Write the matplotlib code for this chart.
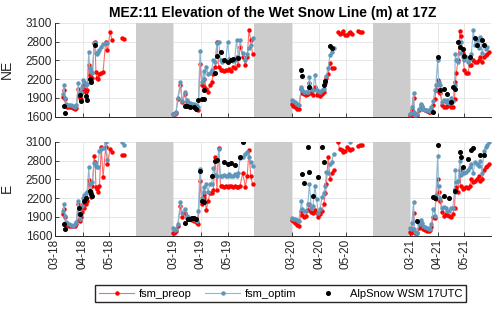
import numpy as np
import matplotlib
matplotlib.use("Agg")
from matplotlib import pyplot as plt

nan = np.nan

#x axis = days since 1 March, one block per spring, grey band for the summer/winter gap
years = ["18", "19", "20", "21"]
month_labels = ["03", "04", "05"]
month_days = [0, 31, 61]
season_len = 133
gap_start = 91

#spring 2018
days_18 = [9, 10, 11, 12, 14, 16, 18, 20, 22, 24, 26, 27, 28, 29, 30, 32, 33, 35, 36, 38,
           39, 40, 42, 44, 45, 46, 47, 48, 50, 52, 54, 57, 59, 62, 64, 68, 75, 77]
ne_preop_18 = [1920, 2030, 1880, 1780, 1760, 1750, 1750, 1740, 1720, 1740, 2050, 1930, 1900, 1880, 2000, 2100, 2050, 2000, 2030, 2430,
               2260, 2180, 2220, 2780, 2790, 2310, 2210, 2200, 2280, 2300, 2310, 2800, 2660, 2950, 2830, nan, 2860, 2840]
ne_optim_18 = [1960, 2100, 1900, 1800, 1790, 1790, 1780, 1770, 1760, 1780, 2130, 1950, 1960, 2000, 2080, 2190, 2150, 2100, 2120, 2640,
               2380, 2330, 2300, 2770, 2780, 2620, 2600, 2640, 2660, 2720, 2760, 2770, 2780, nan, nan, nan, nan, nan]
e_preop_18 = [1940, 2020, 1900, 1790, 1770, 1760, 1750, 1750, 1760, 1780, 2100, 1850, 1830, 1900, 1980, 2100, 2050, 2100, 2150, 2490,
              2320, 2220, 2400, 2870, 2780, 2380, 2350, 2300, 2400, 3020, 2530, 3020, 2750, 2990, 2930, nan, 2890, 2880]
e_optim_18 = [1990, 2110, 1920, 1820, 1800, 1780, 1770, 1760, 1790, 1820, 2160, 1950, 1870, 1950, 2080, 2200, 2250, 2280, 2300, 2690,
              2420, 2300, 2450, 2760, 2760, 2720, 2700, 2700, 2950, 2980, 3000, 3090, 2810, nan, nan, nan, 3090, 3050]
ne_obs_days_18 = [10, 11, 28, 29, 35, 36, 39, 40, 45]
ne_obs_18 = [1770, 1665, 1940, 1850, 1930, 1870, 2200, 2150, 2750]
e_obs_days_18 = [10, 11, 27, 28, 33, 35, 39, 40, 42]
e_obs_18 = [1790, 1710, 2040, 1940, 2150, 2200, 2310, 2260, 2230]

#spring 2019
days_19 = [0, 1, 2, 3, 5, 8, 10, 13, 15, 17, 19, 21, 23, 25, 27, 28, 30, 32, 34, 35, 37, 39, 41,
           43, 45, 47, 49, 51, 53, 55, 57, 59, 61, 63, 65, 67, 69, 71, 73, 75, 78, 81, 83, 85, 87, 89]
ne_preop_19 = [1640, 1640, 1650, 1660, 1880, 2100, 1830, 1960, 1830, 1800, 1780, 1770, 1750, 1740, 1720, 1700, 2440, 2100, 2070, 2200, 2050, 2000, 2100,
               2150, 2280, 2400, 2800, 2400, 2340, 2340, 2330, 2350, 2340, 2360, 2330, 2400, 2370, 2560, 2420, 2720, 2560, 2430, 2550, 2980, 2820, 2600]
ne_optim_19 = [1650, 1650, 1660, 1670, 1900, 2150, 1850, 2000, 1860, 1840, 1820, 1810, 1800, 1780, 1770, 1760, 2650, 2150, 2330, 2200, 2400, 2280, 2300,
               2350, 2500, 2480, 2780, 2790, 2500, 2480, 2500, 2490, 2800, 2520, 2500, 2490, 2510, 2830, 2550, 2820, 2620, 2500, 2600, 2700, 2740, 2860]
e_preop_19 = [1640, 1650, 1660, 1680, 1760, 2070, 1900, 1960, 1880, 1870, 1860, 1850, 1840, 1830, 1800, 1780, 2470, 2100, 2200, 2250, 2010, 2150, 2280,
              2280, 2330, 2860, 2330, 3000, 2400, 2390, 2380, 2400, 2380, 2400, 2390, 2380, 2400, 2380, 2380, 2400, 2600, 2380, 2550, 2960, 2550, 2420]
e_optim_19 = [1720, 1700, 1690, 1700, 1780, 2130, 1970, 2030, 1920, 1900, 1890, 1880, 1870, 1860, 1840, 2000, 2670, 2200, 2380, 2300, 2420, 2300, 2420,
              2420, 2680, 2570, 2550, 2980, 2560, 2560, 2570, 2550, 2560, 2580, 2550, 2560, 2580, 2550, 2600, 2840, 2850, 2900, 2930, 2850, 2780, 2720]
ne_obs_days_19 = [13, 15, 19, 23, 25, 28, 32, 34, 35, 47, 49, 53, 57, 61, 65, 67, 73]
ne_obs_19 = [1770, 1770, 1760, 1760, 1730, 1860, 1890, 2030, 1880, 2290, 2570, 2640, 2500, 2480, 2500, 2520, 2540]
e_obs_days_19 = [13, 17, 19, 21, 23, 25, 30, 32, 34, 43, 47, 49, 57, 61, 65, 69, 75, 78]
e_obs_19 = [1800, 1860, 1870, 1880, 1890, 1870, 2630, 2160, 2140, 2560, 2790, 2810, 2780, 2750, 2760, 2730, 2850, 3090]

#spring 2020
days_20 = [0, 2, 4, 6, 8, 11, 12, 14, 16, 18, 20, 22, 24, 26, 28, 30, 32, 34, 36, 38,
           39, 41, 43, 45, 47, 50, 52, 54, 56, 58, 60, 62, 64, 66, 68, 71, 75, 77, 79]
ne_preop_20 = [1800, 1770, 1750, 1730, 1720, 2040, 1980, 1960, 1950, 1960, 2130, 1980, 1950, 2080, 1950, 1960, 1930, 1960, 2000, 2130,
               2210, 2280, 2450, 2370, 2380, nan, 2950, 2920, 2940, 2960, 2910, 2900, 2930, 2950, 2920, nan, 2960, 2950, 2950]
ne_optim_20 = [1860, 1850, 1830, 1800, 1790, 2080, 2030, 2000, 1990, 2000, 2240, 2040, 2020, 2260, 2030, 2010, 2000, 2020, 2050, 2170,
               2250, 2380, 2580, 2630, 2700, nan, nan, nan, nan, nan, nan, nan, nan, nan, nan, nan, nan, nan, nan]
e_preop_20 = [1850, 1830, 1800, 1770, 1760, 2000, 1930, 1900, 1920, 2010, 2100, 1980, 1960, 2010, 1960, 1900, 1950, 2000, 2100, 2280,
              2430, 2860, 2500, 2600, 2650, nan, 3090, 2980, 2960, 2940, 2950, 3010, 2990, 2970, 2980, nan, 3030, 3050, 3040]
e_optim_20 = [1890, 1870, 1860, 1850, 1840, 2150, 2030, 2000, 1990, 2100, 2420, 2050, 2080, 2400, 2180, 1960, 2020, 2220, 2280, 2400,
              2620, 2600, 2740, 2780, 2900, nan, nan, nan, nan, nan, nan, nan, nan, 3090, nan, nan, nan, nan, nan]
ne_obs_days_20 = [11, 12, 20, 36, 38, 43, 45]
ne_obs_20 = [2350, 2250, 2080, 2100, 2170, 2730, 2690]
e_obs_days_20 = [12, 14, 18, 20, 24, 30, 34, 36]
e_obs_20 = [2580, 2440, 3010, 2620, 2240, 2540, 3020, 2780]

#spring 2021
days_21 = [0, 1, 2, 4, 5, 6, 8, 10, 12, 13, 15, 17, 19, 21, 23, 24, 26, 28, 29, 31, 32, 34, 36, 38, 40,
           42, 44, 46, 48, 50, 51, 52, 54, 56, 57, 59, 61, 63, 65, 67, 69, 71, 73, 75, 77, 79, 81, 83, 85, 87, 89]
ne_preop_21 = [1620, 1630, 1700, 1900, 1660, 1640, 1620, 1700, 1790, 1750, 1720, 1700, 1690, 1680, 1670, 1720, 1780, 1880, 2020, 2180, 2000, 1980, 1780, 1760, 1750,
               1770, 1780, 1760, 1760, 1880, 2150, 2300, 2500, 2960, 2880, 2620, 2350, 2290, 2300, 2420, 2420, 2500, 2480, 2470, 2500, 2550, 2470, 2560, 2580, 2600, 2640]
ne_optim_21 = [1650, 1660, 1750, 1980, 1680, 1620, 1640, 1720, 1800, 1770, 1730, 1710, 1700, 1690, 1700, 1760, 1850, 2030, 2100, 2500, 2150, 2100, 1830, 1870, 1830,
               1870, 1820, 1900, 1850, 2100, 2600, 2500, 2480, 2620, 2800, 2550, 2500, 2560, 2480, 2520, 2600, 2990, 2750, 2830, 2700, 2870, 2620, 2740, 2680, 2720, nan]
e_preop_21 = [1660, 1650, 1700, 1960, 1660, 1640, 1640, 1720, 1780, 1740, 1700, 1690, 1680, 1680, 1690, 1740, 1900, 1880, 2180, 2500, 2300, 2150, 1980, 1920, 1940,
              1930, 1910, 1900, 1950, 2040, 2350, 2380, 2300, 2650, 2400, 2350, 2360, 2380, 2360, 2400, 2500, 2460, 2480, 2500, 2550, 2480, 2500, 2650, 2700, 2720, 2740]
e_optim_21 = [1720, 1700, 1800, 2140, 1700, 1660, 1650, 1780, 1850, 1800, 1760, 1740, 1720, 1710, 1700, 1780, 2030, 1920, 2250, 2870, 2400, 2200, 2050, 2060, 2050,
              2000, 1990, 2050, 2040, 2300, 2650, 2460, 2480, 2800, 2570, 2620, 2600, 2620, 2650, 2700, 2750, 2600, 2780, 2750, 2720, 2800, 2600, 2950, 3010, 3050, 3090]
ne_obs_days_21 = [26, 31, 34, 38, 42, 46, 48, 50, 54, 56, 59, 61, 67, 73, 75, 81, 83]
ne_obs_21 = [1680, 2550, 2030, 2050, 1960, 1830, 2080, 2050, 2800, 2720, 2680, 2570, 2560, 2860, 2740, 2820, 2740]
e_obs_days_21 = [8, 26, 28, 31, 38, 44, 50, 56, 57, 59, 65, 69, 71, 79, 83]
e_obs_21 = [1840, 2220, 2200, 3050, 2240, 2200, 2320, 2940, 2850, 2700, 2820, 2970, 3000, 2890, 2890]

days = [days_18, days_19, days_20, days_21]
panels = [
    ("NE", [ne_preop_18, ne_preop_19, ne_preop_20, ne_preop_21],
           [ne_optim_18, ne_optim_19, ne_optim_20, ne_optim_21],
           [ne_obs_days_18, ne_obs_days_19, ne_obs_days_20, ne_obs_days_21],
           [ne_obs_18, ne_obs_19, ne_obs_20, ne_obs_21]),
    ("E", [e_preop_18, e_preop_19, e_preop_20, e_preop_21],
          [e_optim_18, e_optim_19, e_optim_20, e_optim_21],
          [e_obs_days_18, e_obs_days_19, e_obs_days_20, e_obs_days_21],
          [e_obs_18, e_obs_19, e_obs_20, e_obs_21]),
]

plt.rcParams['font.family'] = ['Liberation Sans', 'DejaVu Sans']
dark = '#262626'
red_line = '#ff6b6b'
blue_line = '#8db8d2'
blue_mark = '#5e97ba'

fig = plt.figure(figsize=(5, 3.09), dpi=100)
ax_top = fig.add_axes([0.11, 0.6223, 0.872, 0.3042])
ax_bot = fig.add_axes([0.11, 0.2372, 0.872, 0.3042])

xticks = []
xlabels = []
for s, yr in enumerate(years):
    for m, d in zip(month_labels, month_days):
        xticks.append(s * season_len + d)
        xlabels.append(m + "-" + yr)

for ax, (name, preop, optim, obs_days, obs) in zip([ax_top, ax_bot], panels):
    for s in range(4):
        x = np.array(days[s]) + s * season_len
        l1, = ax.plot(x, preop[s], color=red_line, lw=0.8, marker='o', ms=2.2,
                      mfc='red', mec='red', zorder=3)
        l2, = ax.plot(x, optim[s], color=blue_line, lw=0.8, marker='o', ms=2.2,
                      mfc=blue_mark, mec=blue_mark, zorder=4)
        xo = np.array(obs_days[s]) + s * season_len
        l3, = ax.plot(xo, obs[s], ls='none', marker='o', ms=2.6, color='black', zorder=5)
    #grey bands between springs
    for s in range(3):
        ax.axvspan(s * season_len + gap_start, (s + 1) * season_len,
                   color='#cccccc', lw=0, zorder=2)

    ax.set_xlim(0, 3 * season_len + gap_start)
    ax.set_ylim(1600, 3100)
    ax.set_yticks(np.arange(1600, 3101, 300))
    ax.set_xticks(xticks)
    ax.grid(True, color='#e3e3e3', lw=0.6, zorder=0)
    ax.set_axisbelow(True)
    for sp in ['top', 'right']:
        ax.spines[sp].set_visible(False)
    for sp in ['left', 'bottom']:
        ax.spines[sp].set_color(dark)
        ax.spines[sp].set_linewidth(0.7)
    ax.tick_params(direction='in', length=3, width=0.6, color=dark,
                   labelcolor=dark, labelsize=8.5, pad=2)
    ax.set_ylabel(name, fontsize=10, color=dark)
    ax.yaxis.set_label_coords(-0.095, 0.5)

ax_top.set_xticklabels([])
ax_bot.set_xticklabels(xlabels, rotation=90)
ax_top.set_title("MEZ:11 Elevation of the Wet Snow Line (m) at 17Z",
                 fontsize=10, fontweight='bold', color='black', pad=4)

fig.legend([l1, l2, l3], ["fsm_preop", "fsm_optim", "AlpSnow WSM 17UTC"],
           loc='center', bbox_to_anchor=(0.561, 0.05), ncol=3, fontsize=8,
           frameon=True, fancybox=False, edgecolor=dark, framealpha=1,
           handlelength=3.2, columnspacing=1.2, handletextpad=0.4,
           borderpad=0.3, borderaxespad=0)

fig.savefig("out.png", dpi=100)
